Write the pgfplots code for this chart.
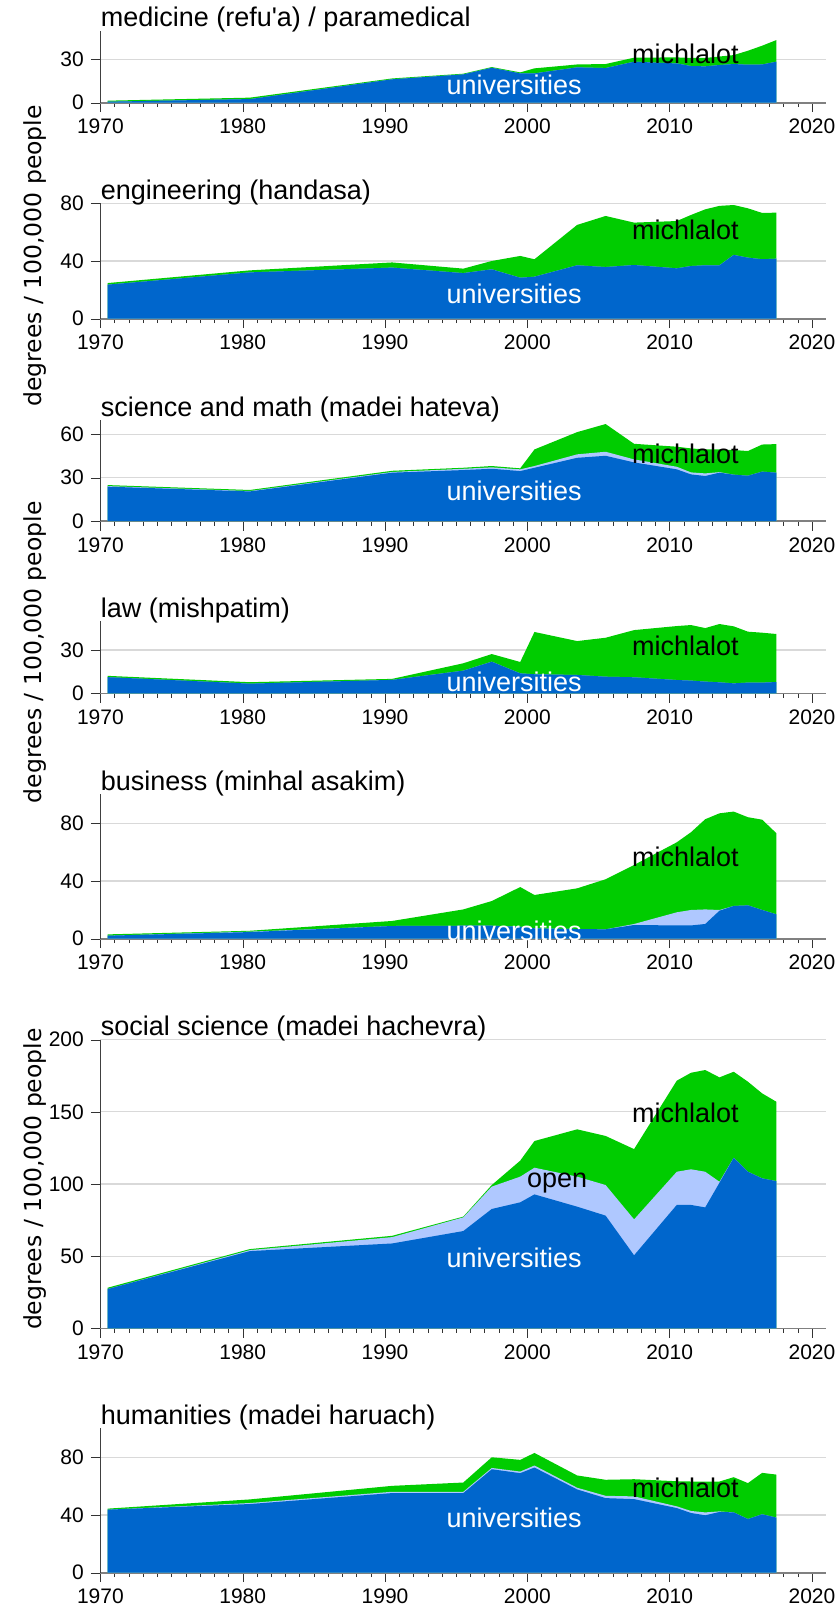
\documentclass[border=0pt]{standalone}
\usepackage{fontspec}
\setmainfont{Liberation Sans}
\newfontfamily\dejavu{DejaVu Sans}
\usepackage{pgfplots}
\usepackage{pgfplotstable}
\pgfplotsset{compat=1.18}

\definecolor{univ}{HTML}{0066CC}
\definecolor{openu}{HTML}{AFC8FF}
\definecolor{mich}{HTML}{00CC00}
\definecolor{gridc}{HTML}{D9D9D9}

% columns: year, top of universities, top of open university, top of michlalot (total)
\pgfplotstableread{
yr u uo t
1970.5 0.7 0.7 1.4
1980.5 2.5 2.5 3.5
1990.5 16.2 16.2 16.8
1995.5 19.6 19.6 20.1
1997.5 24.2 24.2 24.7
1999.5 20.3 20.3 21.0
2000.5 20.3 20.3 23.8
2003.5 24.5 24.5 26.5
2005.5 24.0 24.0 26.8
2007.5 28.4 28.4 31.2
2010.5 27.2 27.2 31.4
2011.5 25.4 25.4 31.0
2012.5 25.2 25.2 31.0
2013.5 26.1 26.1 32.0
2014.5 26.8 26.8 33.0
2015.5 26.3 26.3 36.0
2016.5 26.5 26.5 39.5
2017.5 28.4 28.4 43.4
}\medicine
\pgfplotstableread{
yr u uo t
1970.5 23.6 23.6 24.7
1980.5 32.1 32.1 33.5
1990.5 35.4 35.4 39.0
1995.5 31.6 31.6 34.7
1997.5 34.2 34.2 40.0
1999.5 28.4 28.4 43.5
2000.5 29.1 29.1 41.2
2003.5 37.0 37.0 65.0
2005.5 35.8 35.8 71.2
2007.5 37.2 37.2 66.6
2010.5 34.9 34.9 67.7
2011.5 36.5 36.5 71.9
2012.5 37.0 37.0 75.8
2013.5 37.0 37.0 78.2
2014.5 44.2 44.2 78.8
2015.5 42.3 42.3 76.5
2016.5 41.2 41.2 73.3
2017.5 41.6 41.6 73.5
}\engineering
\pgfplotstableread{
yr u uo t
1970.5 23.8 24.2 24.9
1980.5 20.5 20.8 21.5
1990.5 33.5 34.0 34.8
1995.5 35.3 36.2 36.9
1997.5 36.2 37.2 38.1
1999.5 34.6 35.8 36.5
2000.5 36.9 38.1 49.6
2003.5 43.8 46.2 61.6
2005.5 45.2 48.0 67.2
2007.5 40.6 42.7 53.5
2010.5 35.8 37.6 51.5
2011.5 32.3 33.7 50.3
2012.5 31.2 33.0 49.6
2013.5 33.5 33.9 49.6
2014.5 32.1 32.1 49.2
2015.5 31.4 31.4 48.5
2016.5 34.2 34.2 53.0
2017.5 33.5 33.5 53.3
}\science
\pgfplotstableread{
yr u uo t
1970.5 11.2 11.2 12.1
1980.5 6.7 6.7 7.7
1990.5 9.3 9.3 10.0
1995.5 15.7 15.7 20.8
1997.5 21.9 21.9 27.2
1999.5 13.8 13.8 21.7
2000.5 13.2 13.2 42.5
2003.5 12.7 12.7 36.2
2005.5 11.5 11.5 38.5
2007.5 11.1 11.1 43.8
2010.5 9.2 9.2 46.6
2011.5 8.8 8.8 47.3
2012.5 8.1 8.1 45.2
2013.5 7.6 7.6 48.0
2014.5 6.9 6.9 46.4
2015.5 7.4 7.4 42.7
2016.5 7.4 7.4 42.0
2017.5 7.8 7.8 41.1
}\law
\pgfplotstableread{
yr u uo t
1970.5 2.1 2.1 3.0
1980.5 4.6 4.9 5.5
1990.5 8.8 8.8 12.3
1995.5 9.0 9.0 20.3
1997.5 9.0 9.0 26.1
1999.5 8.3 8.3 35.8
2000.5 7.2 7.2 30.3
2003.5 6.7 6.7 34.9
2005.5 6.5 6.5 41.2
2007.5 9.5 10.2 51.1
2010.5 9.2 18.3 66.8
2011.5 9.2 19.9 73.8
2012.5 10.2 20.3 82.8
2013.5 19.4 19.9 86.9
2014.5 22.7 22.7 88.1
2015.5 23.1 23.1 84.2
2016.5 19.9 19.9 82.5
2017.5 16.9 16.9 73.1
}\business
\pgfplotstableread{
yr u uo t
1970.5 27.2 27.2 28.1
1980.5 53.5 54.2 54.9
1990.5 58.8 63.2 64.1
1995.5 67.4 76.9 77.4
1997.5 82.7 98.2 99.3
1999.5 87.3 105.1 116.2
2000.5 92.8 111.3 129.8
2003.5 84.3 105.1 137.9
2005.5 78.1 99.3 133.3
2007.5 50.6 75.5 124.2
2010.5 85.5 108.5 171.6
2011.5 85.5 110.2 177.1
2012.5 83.8 108.5 179.0
2013.5 100.9 101.6 173.9
2014.5 118.2 118.2 177.8
2015.5 108.5 108.5 170.9
2016.5 103.9 103.9 162.8
2017.5 102.0 102.0 157.0
}\social
\pgfplotstableread{
yr u uo t
1970.5 43.7 43.7 44.4
1980.5 47.6 48.3 50.8
1990.5 55.2 56.1 60.2
1995.5 55.2 56.1 62.5
1997.5 71.7 72.6 80.0
1999.5 69.0 70.1 78.2
2000.5 72.9 74.3 83.0
2003.5 57.7 58.9 67.4
2005.5 51.7 53.3 64.4
2007.5 51.0 52.9 64.8
2010.5 44.8 46.0 63.4
2011.5 41.4 42.8 63.2
2012.5 39.8 41.8 63.2
2013.5 42.1 42.5 63.2
2014.5 41.8 41.8 66.2
2015.5 37.2 37.2 62.1
2016.5 40.5 40.5 69.2
2017.5 38.2 38.2 68.0
}\humanities

\pgfplotsset{
  panel/.style={
    scale only axis, width=362.9pt,
    xmin=1970, xmax=2021, ymin=0,
    axis x line*=bottom, axis y line*=left,
    xtick={1970,1980,...,2020}, minor x tick num=9,
    tick align=outside, major tick length=4.75pt, minor tick length=2.25pt,
    ymajorgrids, grid style={gridc, line width=0.6pt},
    x axis line style={black!50, line width=0.8pt},
    y axis line style={black!75},
    tick style={black!80},
    /pgf/number format/1000 sep={},
    /pgf/number format/assume math mode=true,
    ticklabel style={font=\fontsize{10.5}{12}\selectfont},
    every axis title/.style={at={(0,1)}, anchor=base west, inner sep=0pt,
      yshift=2pt, font=\fontsize{13.5}{16}\selectfont},
    every axis y label/.style={at={(axis description cs:-0.090,0.5)}, rotate=90,
      anchor=center, font=\dejavu\fontsize{11.75}{14}\selectfont},
    clip=false,
  },
}
% painted over one another: total (green), then open, then universities
\newcommand{\layers}[1]{%
  \addplot[draw=none, fill=mich] table[x=yr, y=t] {#1} \closedcycle;
  \addplot[draw=none, fill=openu] table[x=yr, y=uo] {#1} \closedcycle;
  \addplot[draw=none, fill=univ] table[x=yr, y=u] {#1} \closedcycle;
}
\newcommand{\lab}[3]{\node[font=\fontsize{13.5}{16}\selectfont, text=#3] at (axis cs:#1) {#2};}

\begin{document}
\begin{tikzpicture}
\useasboundingbox (0,0) rectangle (419pt,-803.5pt);

\begin{axis}[panel, anchor=south west, at={(50.2pt,-51.35pt)},
  height=36.08pt, ymax=50, ytick={0,30},
  title={medicine (refu\textquotesingle a) / paramedical}]
\layers{\medicine}
\lab{1999.07,12.7}{universities}{white}
\lab{2011.1,33.7}{michlalot}{black}
\end{axis}

\begin{axis}[panel, anchor=south west, at={(50.2pt,-159.35pt)},
  height=57.72pt, ymax=80, ytick={0,40,80},
  title={engineering (handasa)}, ylabel={degrees / 100,000 people},
  ylabel style={at={(axis description cs:-0.090,0.543)}}]
\layers{\engineering}
\lab{1999.07,16.9}{universities}{white}
\lab{2011.1,61.5}{michlalot}{black}
\end{axis}

\begin{axis}[panel, anchor=south west, at={(50.2pt,-260.5pt)},
  height=50.5pt, ymax=70, ytick={0,30,60},
  title={science and math (madei hateva)}]
\layers{\science}
\lab{1999.07,20.8}{universities}{white}
\lab{2011.1,46.4}{michlalot}{black}
\end{axis}

\begin{axis}[panel, anchor=south west, at={(50.2pt,-346.65pt)},
  height=36.08pt, ymax=50, ytick={0,30},
  title={law (mishpatim)}, ylabel={degrees / 100,000 people},
  ylabel style={at={(axis description cs:-0.090,0.569)}}]
\layers{\law}
\lab{1999.07,8}{universities}{white}
\lab{2011.1,32.8}{michlalot}{black}
\end{axis}

\begin{axis}[panel, anchor=south west, at={(50.2pt,-469.35pt)},
  height=72.15pt, ymax=100, ytick={0,40,80},
  title={business (minhal asakim)}]
\layers{\business}
\lab{1999.07,5.5}{universities}{white}
\lab{2011.1,56.8}{michlalot}{black}
\end{axis}

\begin{axis}[panel, anchor=south west, at={(50.2pt,-664.15pt)},
  height=144.3pt, ymax=200, ytick={0,50,100,150,200},
  title={social science (madei hachevra)}, ylabel={degrees / 100,000 people},
  ylabel style={at={(axis description cs:-0.090,0.517)}}]
\layers{\social}
\lab{1999.07,48.5}{universities}{white}
\lab{2002.1,100.5}{open}{black}
\lab{2011.1,149.4}{michlalot}{black}
\end{axis}

\begin{axis}[panel, anchor=south west, at={(50.2pt,-786.35pt)},
  height=72.15pt, ymax=100, ytick={0,40,80},
  title={humanities (madei haruach)}]
\layers{\humanities}
\lab{1999.07,37.7}{universities}{white}
\lab{2011.1,58.5}{michlalot}{black}
\end{axis}
\end{tikzpicture}
\end{document}
